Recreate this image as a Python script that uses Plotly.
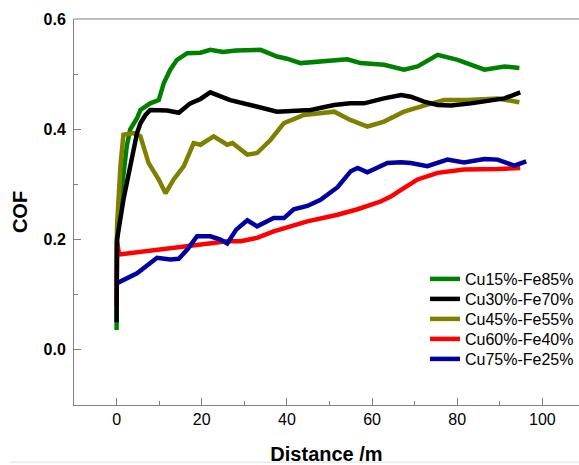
import plotly.graph_objects as go

# ---- data ----
names = ["Cu15%-Fe85%", "Cu30%-Fe70%", "Cu45%-Fe55%", "Cu60%-Fe40%", "Cu75%-Fe25%"]
colors = ["#008000", "#000000", "#808000", "#ff0000", "#0000a0"]

x_cu15 = [0, 0.1, 0.9, 2.4, 3.2, 4.8, 5.6, 7.9, 9.9, 11.1, 12.6, 14.2, 16.6, 19.7, 22, 25, 28,
          31.5, 33.8, 37.7, 40, 43.2, 47.2, 51.9, 54.2, 57.3, 62.8, 67.5, 70.7, 75.4, 80.1, 86.4, 91.1, 94.6]
y_cu15 = [0.036, 0.2, 0.27, 0.37, 0.40, 0.42, 0.435, 0.447, 0.453, 0.484, 0.508, 0.526, 0.538, 0.539,
          0.544, 0.540, 0.543, 0.544, 0.544, 0.532, 0.528, 0.520, 0.523, 0.526, 0.527, 0.520, 0.517,
          0.508, 0.514, 0.535, 0.526, 0.508, 0.514, 0.511]

x_cu30 = [0, 0.1, 1.6, 3.2, 4, 4.8, 5.6, 6.8, 7.9, 11.9, 14.6, 17.3, 19.7, 22, 26.7, 31.5, 37.7,
          45.6, 51.1, 54.9, 58.1, 62.8, 66.8, 69.1, 72.2, 75.4, 78.5, 83.2, 87.9, 91.1, 94.8]
y_cu30 = [0.05, 0.2, 0.272, 0.333, 0.363, 0.393, 0.411, 0.426, 0.435, 0.434, 0.430, 0.447, 0.455,
          0.467, 0.453, 0.444, 0.432, 0.435, 0.444, 0.447, 0.447, 0.456, 0.462, 0.459, 0.450, 0.444,
          0.443, 0.447, 0.452, 0.456, 0.467]

x_cu45 = [0, 0.1, 0.9, 1.6, 4, 5.6, 7.5, 9.9, 11.5, 13.4, 15.8, 18.1, 19.7, 22.8, 26, 27.2, 30.7,
          33, 36.2, 39.3, 44, 51.1, 54.9, 58.9, 62.8, 67.5, 72.2, 76.9, 82.4, 89.5, 94.6]
y_cu45 = [0.12, 0.224, 0.333, 0.39, 0.393, 0.387, 0.339, 0.309, 0.284, 0.309, 0.333, 0.375, 0.372,
          0.387, 0.372, 0.375, 0.354, 0.357, 0.381, 0.411, 0.426, 0.432, 0.417, 0.405, 0.414, 0.432,
          0.443, 0.453, 0.453, 0.456, 0.449]

x_cu60 = [0, 0.1, 0.6, 5, 10.3, 18.1, 26, 29.1, 33, 36.9, 44.8, 51.9, 56.6, 62, 64.4, 66.8, 70.7,
          75.4, 81.6, 89.5, 94.8]
y_cu60 = [0.08, 0.195, 0.173, 0.177, 0.182, 0.188, 0.197, 0.197, 0.203, 0.215, 0.233, 0.245, 0.255,
          0.269, 0.278, 0.290, 0.309, 0.321, 0.327, 0.328, 0.330]

x_cu75 = [0, 0.1, 4.8, 9.5, 12.6, 14.6, 16.6, 18.9, 22, 24.4, 26, 28.1, 30.7, 33, 36.9, 39.3, 41.6,
          44.8, 47.9, 51.9, 55, 56.6, 58.9, 63.6, 66.8, 69.1, 73, 77.7, 81.6, 86.4, 89.5, 93.4, 96.2]
y_cu75 = [0.118, 0.121, 0.139, 0.167, 0.164, 0.165, 0.182, 0.206, 0.206, 0.200, 0.193, 0.218, 0.235,
          0.224, 0.239, 0.239, 0.255, 0.261, 0.272, 0.295, 0.324, 0.330, 0.322, 0.339, 0.340, 0.339,
          0.333, 0.345, 0.340, 0.346, 0.345, 0.334, 0.342]

x_tickvals = [0, 20, 40, 60, 80, 100]
y_tickvals = [0.0, 0.2, 0.4, 0.6]
y_ticktext = ["0.0", "0.2", "0.4", "0.6"]

series = [(x_cu15, y_cu15), (x_cu30, y_cu30), (x_cu45, y_cu45), (x_cu60, y_cu60), (x_cu75, y_cu75)]
draw_order = [0, 2, 3, 4, 1]
legend_ids = ["legend", "legend2", "legend3", "legend4", "legend5"]

fig = go.Figure()
for i in draw_order:
    xs, ys = series[i]
    fig.add_trace(go.Scatter(x=xs, y=ys, mode="lines", name=names[i],
                             line=dict(color=colors[i], width=4.5),
                             legend=legend_ids[i]))

font_family = "Arial, 'Liberation Sans', sans-serif"
axis_common = dict(showline=True, linecolor="#808080", linewidth=1, ticks="inside",
                   tickcolor="#808080", ticklen=7, tickwidth=1, showgrid=False, zeroline=False,
                   tickfont=dict(family=font_family, size=16, color="#000000"))

fig.update_xaxes(range=[-10, 108.6], tickvals=x_tickvals,
                 minor=dict(dtick=10, tick0=0, ticks="inside", ticklen=4, tickcolor="#808080", showgrid=False),
                 title=dict(text="<b>Distance /m</b>", font=dict(family=font_family, size=20, color="#000"),
                            standoff=22),
                 tickprefix="<b>", ticksuffix="</b>", **axis_common)
fig.update_yaxes(range=[-0.1, 0.6], tickvals=y_tickvals, ticktext=["<b>" + t + "</b>" for t in y_ticktext],
                 minor=dict(dtick=0.1, tick0=0, ticks="inside", ticklen=4, tickcolor="#808080", showgrid=False),
                 title=dict(text="<b>COF</b>", font=dict(family=font_family, size=20, color="#000"),
                            standoff=10),
                 ticklabelstandoff=4,
                 **axis_common)

# one legend box per entry, rows 20 px apart as in the reference
row_centers_px = [279, 299, 319, 339, 359]
legend_layout = {}
for k, lid in enumerate(legend_ids):
    legend_layout[lid] = dict(x=0.695, y=(405 - row_centers_px[k]) / 386, xanchor="left", yanchor="middle",
                              font=dict(family=font_family, size=16, color="#000"),
                              bgcolor="rgba(0,0,0,0)", itemwidth=30, borderwidth=0)

fig.update_layout(
    width=579, height=465,
    margin=dict(l=74, r=0, t=19, b=60),
    paper_bgcolor="white", plot_bgcolor="white",
    showlegend=True,
    shapes=[
        dict(type="line", xref="paper", yref="paper", x0=0, x1=1, y0=1, y1=1,
             line=dict(color="#808080", width=1)),
        dict(type="line", xref="paper", yref="paper", x0=-0.127, x1=1, y0=-0.148, y1=-0.148,
             line=dict(color="#e0e0e0", width=1)),
    ],
    **legend_layout,
)

fig.write_html("out.html")
